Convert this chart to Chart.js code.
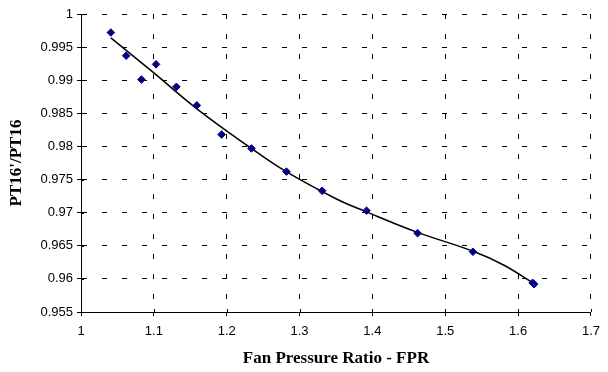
<!DOCTYPE html>
<html>
<head>
<meta charset="utf-8">
<script src="https://cdn.jsdelivr.net/npm/chart.js@4"></script>
<style>
  html, body { margin: 0; padding: 0; background: #fff; }
  #wrap { width: 608px; height: 372px; }
</style>
</head>
<body>
<div id="wrap"><canvas id="chart"></canvas></div>
<script>
// measured points
const fprValues = [1.041, 1.062, 1.083, 1.103, 1.131, 1.159, 1.193, 1.234, 1.282, 1.331, 1.392, 1.462, 1.538, 1.620, 1.622];
const ptRatio = [0.9972, 0.9937, 0.9901, 0.9924, 0.9890, 0.9862, 0.9818, 0.9797, 0.9762, 0.9733, 0.9703, 0.9669, 0.9641, 0.9594, 0.9592];

// trend line
const trendFpr = [1.041, 1.10, 1.16, 1.23, 1.28, 1.35, 1.39, 1.46, 1.54, 1.58, 1.622];
const trendRatio = [0.9964, 0.9911, 0.9856, 0.9800, 0.9763, 0.9721, 0.9702, 0.9671, 0.9641, 0.9621, 0.9593];

const xTicks = [1, 1.1, 1.2, 1.3, 1.4, 1.5, 1.6, 1.7];
const yTicks = [0.955, 0.96, 0.965, 0.97, 0.975, 0.98, 0.985, 0.99, 0.995, 1];

const fmt = v => String(Number(v.toFixed(3)));
const tickFont = { family: 'Liberation Sans, Arial, sans-serif', size: 13 };
const titleFont = { family: 'Liberation Serif, Times New Roman, serif', size: 17, weight: 'bold' };

const gridOpts = {
    color: '#000',
    lineWidth: 1,
    borderDash: [5, 15],
    tickColor: '#000',
    tickBorderDash: [],
    tickLength: 4,
    drawTicks: true
};
const borderOpts = { display: true, color: '#000', width: 1, dash: [5, 15] };

// excel style tick marks cross the axis, so add the short inner half
const innerTicks = {
    id: 'innerTicks',
    afterDatasetsDraw(chart) {
        const { ctx, chartArea, scales } = chart;
        ctx.save();
        ctx.strokeStyle = '#000';
        ctx.lineWidth = 1;
        ctx.setLineDash([]);
        ctx.beginPath();
        scales.x.ticks.forEach(t => {
            const px = Math.round(scales.x.getPixelForValue(t.value)) + 0.5;
            ctx.moveTo(px, chartArea.bottom);
            ctx.lineTo(px, chartArea.bottom - 3);
        });
        scales.y.ticks.forEach(t => {
            const py = Math.round(scales.y.getPixelForValue(t.value)) + 0.5;
            ctx.moveTo(chartArea.left, py);
            ctx.lineTo(chartArea.left + 3, py);
        });
        ctx.stroke();
        ctx.restore();
    }
};

const ctx = document.getElementById('chart').getContext('2d');
new Chart(ctx, {
    type: 'scatter',
    data: {
        datasets: [{
            label: 'data',
            data: fprValues.map((x, i) => ({ x, y: ptRatio[i] })),
            pointStyle: 'rectRot',
            pointRadius: 3.8,
            backgroundColor: '#000080',
            borderColor: '#000080',
            borderWidth: 1,
            order: 0
        }, {
            label: 'trend',
            data: trendFpr.map((x, i) => ({ x, y: trendRatio[i] })),
            showLine: true,
            pointRadius: 0,
            borderColor: '#000',
            borderWidth: 1.5,
            tension: 0.4,
            order: 1
        }]
    },
    options: {
        responsive: true,
        maintainAspectRatio: false,
        animation: false,
        layout: { padding: { left: 0, right: 10, top: 14, bottom: 0 } },
        plugins: {
            legend: { display: false },
            tooltip: { enabled: false }
        },
        scales: {
            x: {
                type: 'linear',
                min: 1,
                max: 1.7,
                afterBuildTicks: s => { s.ticks = xTicks.map(v => ({ value: v })); },
                afterFit: s => { s.height = 60; },
                grid: gridOpts,
                border: borderOpts,
                ticks: { color: '#000', font: tickFont, padding: 8, maxRotation: 0, callback: fmt },
                title: { display: true, text: 'Fan Pressure Ratio - FPR', color: '#000', font: titleFont, padding: { top: 0, bottom: 3 } }
            },
            y: {
                type: 'linear',
                min: 0.955,
                max: 1,
                afterBuildTicks: s => { s.ticks = yTicks.map(v => ({ value: v })); },
                afterFit: s => { s.width = 81; },
                grid: gridOpts,
                border: borderOpts,
                ticks: { color: '#000', font: tickFont, padding: 4, callback: fmt },
                title: { display: true, text: "PT16'/PT16", color: '#000', font: titleFont, padding: { top: 6, bottom: 0 } }
            }
        }
    },
    plugins: [innerTicks]
});
</script>
</body>
</html>
